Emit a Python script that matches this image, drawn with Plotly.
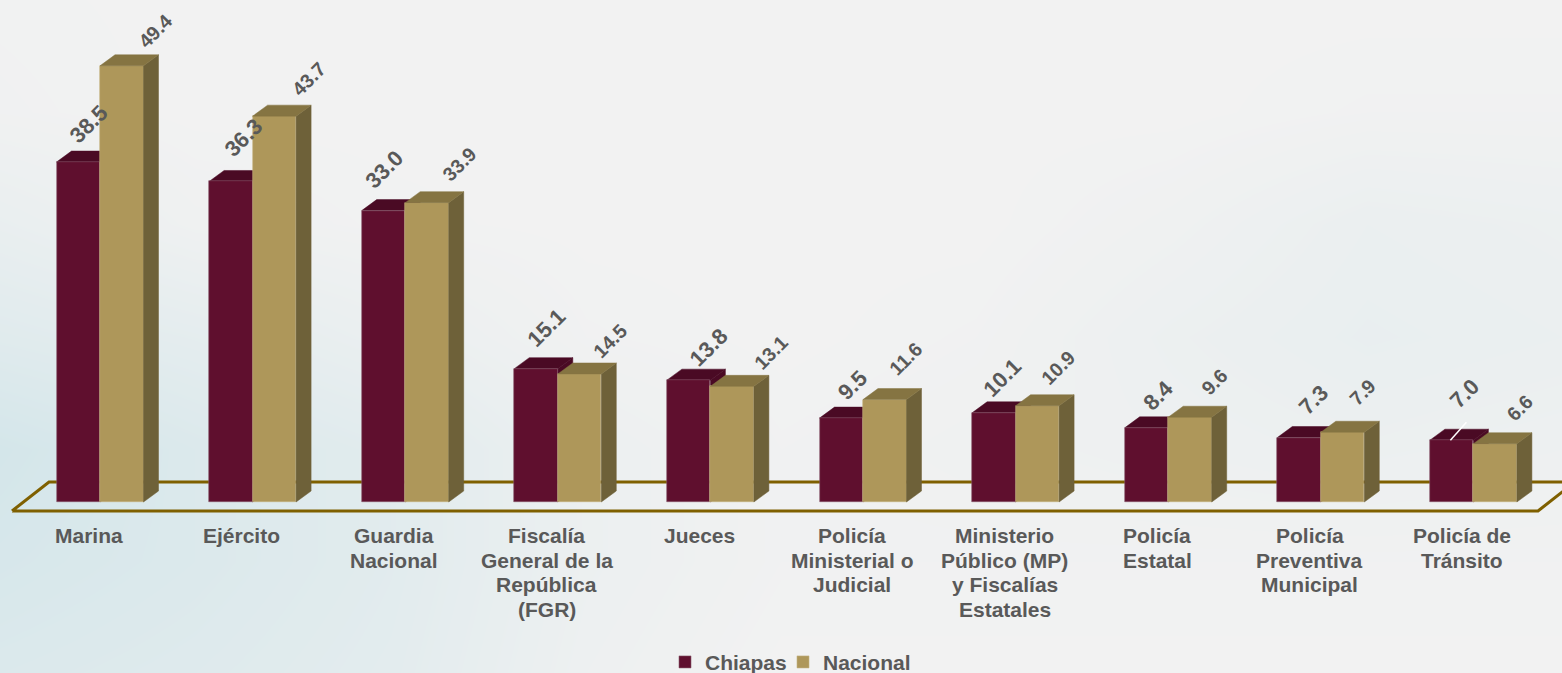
import plotly.graph_objects as go

CATEGORIES = ["Marina", "Ejército", "Guardia\nNacional", "Fiscalía\nGeneral de la\nRepública\n(FGR)", "Jueces",
              "Policía\nMinisterial o\nJudicial", "Ministerio\nPúblico (MP)\ny Fiscalías\nEstatales",
              "Policía\nEstatal", "Policía\nPreventiva\nMunicipal", "Policía de\nTránsito"]
CHIAPAS = [38.5, 36.3, 33.0, 15.1, 13.8, 9.5, 10.1, 8.4, 7.3, 7.0]
NACIONAL = [49.4, 43.7, 33.9, 14.5, 13.1, 11.6, 10.9, 9.6, 7.9, 6.6]

# Soft background tint (0 = grey, 1 = teal), estimated on a coarse grid, top row first
BG_TINT = [
    [0.03, 0.00, 0.00, 0.00, 0.00, 0.00, 0.00, 0.00, 0.00],
    [0.06, 0.00, 0.00, 0.00, 0.00, 0.00, 0.00, 0.05, 0.05],
    [0.30, 0.10, 0.03, 0.00, 0.00, 0.00, 0.10, 0.25, 0.20],
    [0.60, 0.45, 0.25, 0.05, 0.00, 0.05, 0.20, 0.30, 0.25],
    [1.00, 0.75, 0.55, 0.20, 0.05, 0.10, 0.15, 0.20, 0.15],
    [0.90, 0.75, 0.55, 0.20, 0.05, 0.05, 0.05, 0.05, 0.05],
    [0.75, 0.65, 0.50, 0.15, 0.00, 0.00, 0.00, 0.00, 0.00],
]

# Nudge of each value label from the bar top, in pixels (dx, dy up)
CHIAPAS_NUDGE = [(-12, 38), (-9, 44), (-21, 41), (-11, 41), (-2, 33), (-11, 33), (-13, 35), (-10, 32), (-7, 38), (-9, 47)]
NACIONAL_NUDGE = [(55, 35), (56, 37), (54, 39), (52, 33), (61, 34), (42, 41), (42, 38), (46, 35), (42, 40), (46, 36)]

STEP = 152.6
X0 = 100.0
Y0 = 502.0
SCALE = 8.83
W, H = 1562, 673
BAR_W = 43.5 / STEP
DX = 15 / STEP
DY = 11 / SCALE
LABEL_DX = -11 / STEP

def xd(p):
    return (p - X0) / STEP

def yd(p):
    return (Y0 - p) / SCALE

C_FACE, C_TOP = "#5f0f2e", "#4a0a24"
N_FACE, N_TOP, N_SIDE = "#ae975a", "#857442", "#6e6139"
EDGE_N = "#c4b27f"
TEXT = "#595959"
FLOOR = "#7f6000"
FONT = "Liberation Sans"

fig = go.Figure()

# background
n_r, n_c = len(BG_TINT), len(BG_TINT[0])
fig.add_trace(go.Heatmap(
    z=BG_TINT[::-1],
    x=[xd(W * c / (n_c - 1)) for c in range(n_c)],
    y=[yd(H * r / (n_r - 1)) for r in range(n_r)][::-1],
    zmin=0, zmax=1, zsmooth="best", showscale=False, hoverinfo="skip",
    colorscale=[[0, "#f2f2f2"], [1, "#d4e6ea"]],
))

# floor
fx = [xd(12), xd(1538), xd(1575), xd(49), xd(12)]
fy = [yd(511), yd(511), yd(482), yd(482), yd(511)]
fig.add_trace(go.Scatter(x=fx, y=fy, mode="lines", line=dict(color=FLOOR, width=3),
                         showlegend=False, hoverinfo="skip"))


def faces(values, left, top_col, side_col, name, xa, ya):
    tx, ty, sx, sy = [], [], [], []
    for i, v in enumerate(values):
        l = i + left
        r = l + BAR_W
        tx += [l, r, r + DX, l + DX, l, None]
        ty += [v, v, v + DY, v + DY, v, None]
        sx += [r, r + DX, r + DX, r, r, None]
        sy += [0, DY, v + DY, v, 0, None]
    for x, y, col in ((sx, sy, side_col), (tx, ty, top_col)):
        fig.add_trace(go.Scatter(x=x, y=y, mode="lines", fill="toself", fillcolor=col,
                                 line=dict(color=col, width=0.5), showlegend=False,
                                 hoverinfo="skip", name=name, xaxis=xa, yaxis=ya))


idx = list(range(len(CATEGORIES)))
# Chiapas depth faces sit on the lower subplot, so that the bars of the overlay cover them
faces(CHIAPAS, -BAR_W, C_TOP, C_TOP, "Chiapas 3D", "x", "y")
fig.add_trace(go.Bar(x=idx, y=CHIAPAS, name="Chiapas", width=BAR_W, offset=-BAR_W, xaxis="x2", yaxis="y2",
                     legend="legend",
                     marker=dict(color=C_FACE, line=dict(color="#8a5a6c", width=0.6))))
fig.add_trace(go.Bar(x=idx, y=NACIONAL, name="Nacional", width=BAR_W, offset=0, xaxis="x2", yaxis="y2",
                     legend="legend2",
                     marker=dict(color=N_FACE, line=dict(color=EDGE_N, width=0.6))))
faces(NACIONAL, 0, N_TOP, N_SIDE, "Nacional 3D", "x2", "y2")

# leader line of the last Chiapas label
fig.add_shape(type="line", layer="above", x0=idx[-1] - 23 / STEP, x1=idx[-1] - 7 / STEP,
              y0=CHIAPAS[-1], y1=CHIAPAS[-1] + 18 / SCALE, line=dict(color="white", width=1.5))

annotations = []
for vals, nudges, size in ((CHIAPAS, CHIAPAS_NUDGE, 22), (NACIONAL, NACIONAL_NUDGE, 19.5)):
    for i, (v, (dx, dy)) in enumerate(zip(vals, nudges)):
        annotations.append(dict(x=i, y=v, text=f"<b>{v:.1f}</b>", showarrow=False, xshift=dx, yshift=dy,
                                textangle=-45, font=dict(family=FONT, size=size, color=TEXT)))
for i, cat in enumerate(CATEGORIES):
    for k, line in enumerate(cat.split("\n")):
        annotations.append(dict(x=i + LABEL_DX, y=yd(535.5 + 24.5 * k), text=f"<b>{line}</b>", showarrow=False,
                                font=dict(family=FONT, size=21, color=TEXT)))

xr = [xd(0), xd(W)]
yr = [yd(H), yd(0)]
legend_style = dict(orientation="h", xanchor="left", y=-0.0145, yanchor="bottom",
                    font=dict(family=FONT, size=21, color=TEXT, weight="bold"),
                    bgcolor="rgba(0,0,0,0)", itemclick=False, itemdoubleclick=False)
fig.update_layout(
    width=W, height=H, autosize=False, margin=dict(l=0, r=0, t=0, b=0, autoexpand=False),
    paper_bgcolor="#f2f2f2", plot_bgcolor="#f2f2f2",
    barmode="overlay", bargap=0,
    xaxis=dict(range=xr, visible=False, showgrid=False, zeroline=False),
    yaxis=dict(range=yr, visible=False, showgrid=False, zeroline=False),
    xaxis2=dict(range=xr, visible=False, showgrid=False, zeroline=False, overlaying="x"),
    yaxis2=dict(range=yr, visible=False, showgrid=False, zeroline=False, overlaying="y"),
    annotations=annotations,
    legend=dict(x=665 / W, **legend_style),
    legend2=dict(x=783 / W, **legend_style),
    showlegend=True,
    hovermode=False,
)
fig.write_html("out.html", config=dict(displayModeBar=False),
               post_script="document.body.style.margin='0';document.body.style.background='#f2f2f2';")
